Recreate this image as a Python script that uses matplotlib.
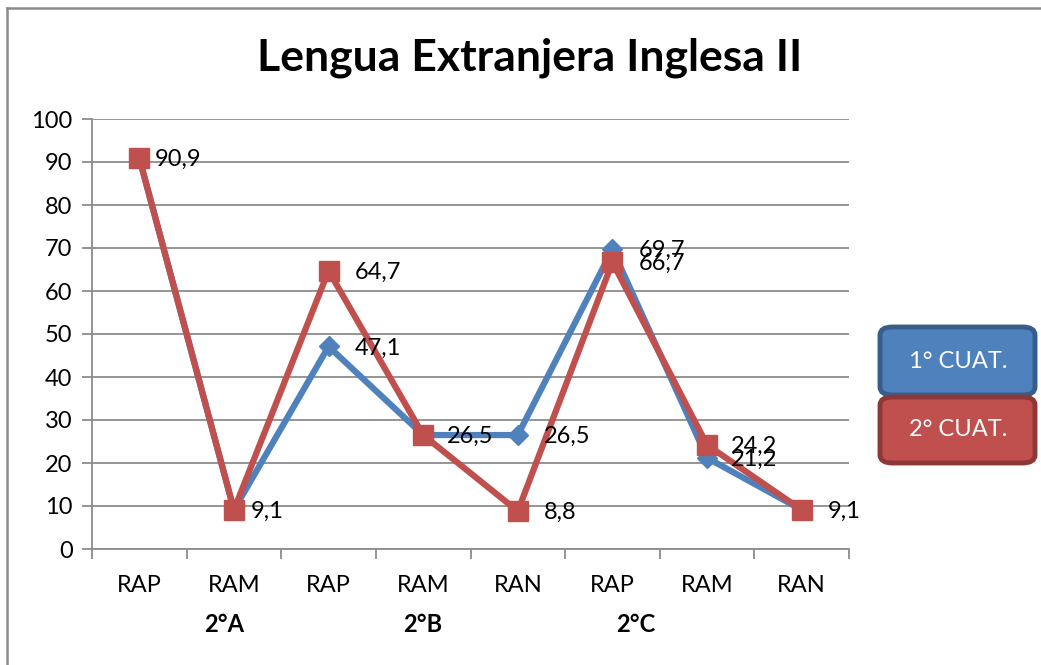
import matplotlib
matplotlib.use("Agg")
import matplotlib.pyplot as plt
from matplotlib.patches import FancyBboxPatch
from matplotlib.lines import Line2D

categories = ["RAP", "RAM", "RAP", "RAM", "RAN", "RAP", "RAM", "RAN"]
groups = ["2°A", "2°B", "2°C"]
group_pos = [0.9, 3, 5.25]
cuat1 = [90.9, 9.1, 47.1, 26.5, 26.5, 69.7, 21.2, 9.1]
cuat2 = [90.9, 9.1, 64.7, 26.5, 8.8, 66.7, 24.2, 9.1]
labels1 = ["", "", "47,1", "", "26,5", "69,7", "21,2", ""]
labels2 = ["90,9", "9,1", "64,7", "26,5", "8,8", "66,7", "24,2", "9,1"]
series_names = ["1° CUAT.", "2° CUAT."]

blue = "#4F81BD"
red = "#C0504D"
font = "Lato"
fs = 17

W, H = 1041, 665
fig = plt.figure(figsize=(W / 100, H / 100), dpi=100)
ax = fig.add_axes([92 / W, 1 - 549 / H, (849 - 92) / W, (549 - 119) / H])

x = list(range(len(categories)))
ax.plot(x, cuat1, color=blue, lw=4.5, marker="D", ms=10, zorder=3, solid_joinstyle="round")
ax.plot(x, cuat2, color=red, lw=4.5, marker="s", ms=15, zorder=4, solid_joinstyle="round")

off1 = [19, 19, 19, 19, 19, 19, 17, 19]
off2 = [11, 12, 19, 17, 19, 19, 17, 19]
for i, (v, t) in enumerate(zip(cuat1, labels1)):
    if t:
        ax.annotate(t, (i, v), xytext=(off1[i], -1), textcoords="offset points", va="center",
                    ha="left", fontsize=fs, family=font, zorder=5)
for i, (v, t) in enumerate(zip(cuat2, labels2)):
    if t:
        ax.annotate(t, (i, v), xytext=(off2[i], -1), textcoords="offset points", va="center",
                    ha="left", fontsize=fs, family=font, zorder=5)

ax.set_xlim(-0.5, len(categories) - 0.5)
ax.set_ylim(0, 100)
ax.set_yticks(range(0, 101, 10))
ax.yaxis.grid(True, color="#8C8C8C", lw=1.3)
ax.set_axisbelow(True)
for s in ["top", "right"]:
    ax.spines[s].set_visible(False)
for s in ["left", "bottom"]:
    ax.spines[s].set_color("#8C8C8C")
    ax.spines[s].set_linewidth(1.3)
ax.tick_params(axis="y", length=7, color="#8C8C8C", width=1.3, labelsize=fs, pad=7)
ax.set_xticks([i - 0.5 for i in range(len(categories) + 1)])
ax.set_xticklabels([])
ax.tick_params(axis="x", length=7, color="#8C8C8C", width=1.3)
for lab in ax.get_yticklabels():
    lab.set_family(font)
for i, c in enumerate(categories):
    ax.text(i, -8.4, c, ha="center", va="center", fontsize=fs, family=font)
for gp, g in zip(group_pos, groups):
    ax.text(gp, -17.5, g, ha="center", va="center", fontsize=fs, family=font, fontweight="bold")

fig.text(530 / W, 1 - 58 / H, "Lengua Extranjera Inglesa II", ha="center", va="center",
         fontsize=32, fontweight="bold", family=font)

# legend boxes
for k, (name, fc, ec, y0, y1) in enumerate([
        (series_names[0], blue, "#385D8A", 327, 395),
        (series_names[1], red, "#8C3836", 397, 463)]):
    box = FancyBboxPatch((880 / W, 1 - y1 / H), (1035 - 880) / W, (y1 - y0) / H,
                         boxstyle="round,pad=0,rounding_size=0.012", transform=fig.transFigure,
                         facecolor=fc, edgecolor=ec, lw=3.5)
    fig.patches.append(box)
    fig.text(958 / W, 1 - (y0 + y1) / 2 / H, name, ha="center", va="center",
             color="white", fontsize=fs, family=font)

# figure border
fig.add_artist(Line2D([7 / W, 7 / W], [0, 1 - 7.5 / H], transform=fig.transFigure, color="#8C8C8C", lw=1.8))
fig.add_artist(Line2D([7 / W, 1], [1 - 7.5 / H, 1 - 7.5 / H], transform=fig.transFigure, color="#8C8C8C", lw=1.8))

fig.savefig("out.png", dpi=100)
